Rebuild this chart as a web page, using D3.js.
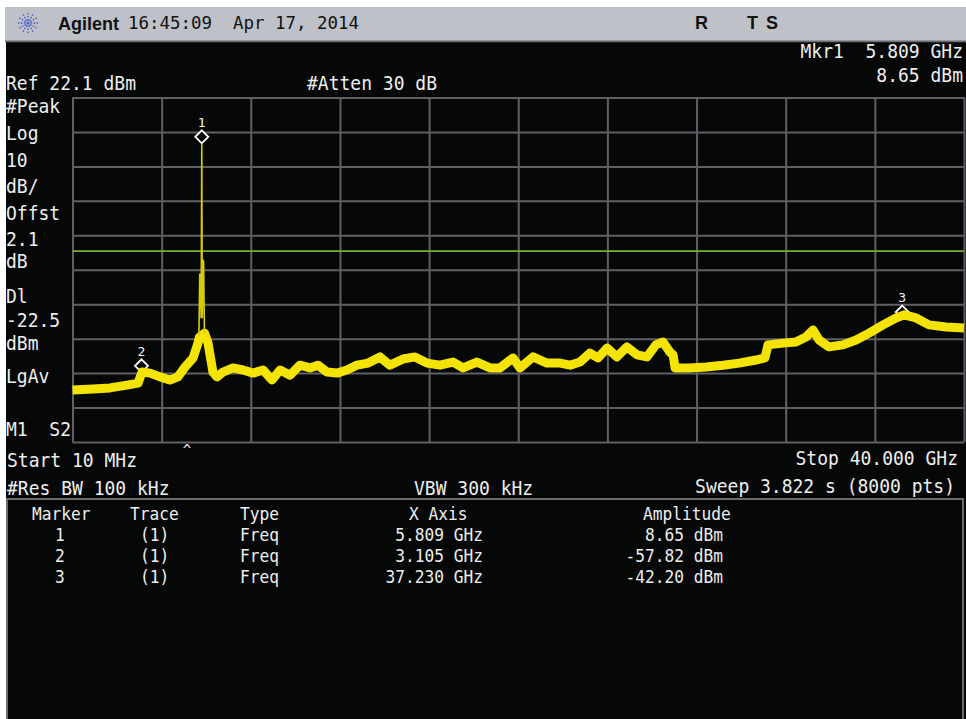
<!DOCTYPE html>
<html><head><meta charset="utf-8">
<script src="https://cdn.jsdelivr.net/npm/d3@7"></script>
<style>html,body{margin:0;padding:0;background:#fff;overflow:hidden}</style>
</head><body>
<svg id="c" width="966" height="719"></svg>
<script>
// ---- data ----
const startGHz = 0.01, stopGHz = 40.0;
const refLevel = 22.1, dbPerDiv = 10, displayLine = -22.5;
const traceFreq = [0.01,0.93,1.69,2.45,2.95,3.13,3.49,3.94,4.38,4.74,5.06,5.42,5.64,5.70,5.93,6.09,6.31,6.49,6.76,7.21,7.66,8.11,8.56,8.96,9.32,9.77,10.21,10.66,11.02,11.43,11.87,12.32,12.77,13.27,13.80,14.25,14.84,15.37,15.91,16.49,17.08,17.53,18.15,18.74,19.19,19.77,20.08,20.67,21.29,21.88,22.33,22.77,23.22,23.58,23.99,24.43,24.88,25.33,25.78,26.18,26.36,26.50,26.81,26.95,27.04,27.66,28.43,29.19,29.91,30.67,31.07,31.21,31.88,32.46,32.91,33.23,33.50,33.94,34.57,35.16,35.74,36.37,36.95,37.31,37.85,38.43,39.19,40.0];
const traceAmp = [-62.8,-62.5,-62.2,-61.4,-60.8,-57.6,-57.9,-59.0,-59.9,-59.0,-56.1,-53.5,-49.2,-47.5,-46.3,-49.2,-57.6,-59.0,-57.6,-56.4,-57.0,-57.9,-57.0,-59.9,-57.0,-58.5,-55.6,-56.4,-55.6,-57.6,-57.9,-57.0,-55.6,-55.0,-53.2,-55.6,-53.8,-53.2,-55.0,-55.6,-54.7,-56.4,-54.7,-56.4,-56.4,-53.5,-56.4,-53.2,-55.0,-55.0,-55.6,-54.7,-52.1,-53.5,-50.6,-53.2,-50.3,-52.6,-53.2,-49.7,-49.2,-48.9,-51.8,-52.6,-56.4,-56.4,-56.1,-55.6,-55.0,-54.1,-53.5,-49.7,-49.2,-48.9,-47.4,-45.4,-48.3,-50.3,-49.7,-48.3,-46.3,-43.9,-41.9,-41.0,-41.9,-43.9,-44.5,-44.8];
const spikeFreq = [5.68,5.72,5.75,5.78,5.809,5.83,5.86,5.89,5.93];
const spikeAmp  = [-47.0,-29.0,-29.5,-42.0,8.65,-42.0,-25.0,-25.5,-46.3];
const markerIds = ["1","2","3"];
const markerTraces = ["(1)","(1)","(1)"];
const markerTypes = ["Freq","Freq","Freq"];
const markerFreq = [5.809,3.105,37.230];
const markerAmp = [8.65,-57.82,-42.20];
const markerFreqText = ["5.809 GHz","3.105 GHz","37.230 GHz"];
const markerAmpText = ["8.65 dBm","-57.82 dBm","-42.20 dBm"];
const tableHeaders = ["Marker","Trace","Type","X Axis","Amplitude"];
const leftLabels = ["#Peak","Log","10","dB/","Offst","2.1","dB","Dl","-22.5","dBm","LgAv","M1  S2"];

// ---- layout ----
const svg = d3.select("#c");
const L = 72.5, R = 964, T = 97.5, B = 442;
const x = d3.scaleLinear().domain([startGHz, stopGHz]).range([L, R]);
const y = d3.scaleLinear().domain([refLevel - 10*dbPerDiv, refLevel]).range([B, T]);
const MONO = "'DejaVu Sans Mono', monospace";
const SANS = "'Liberation Sans', Arial, sans-serif";
const FG = "#eeeeee";

function txt(xp, yp, s, o = {}) {
  const g = svg.append("g").attr("transform", `translate(${xp},${yp}) scale(${o.sx ?? 0.9},1)`);
  g.append("text").attr("x", 0).attr("y", 0)
    .attr("font-family", o.family || MONO).attr("font-size", o.size || 20)
    .attr("font-weight", o.weight || "normal")
    .attr("text-anchor", o.anchor || "start")
    .attr("fill", o.fill || FG).attr("xml:space", "preserve")
    .style("white-space", "pre").text(s);
}

// backgrounds
svg.append("rect").attr("x", 0).attr("y", 0).attr("width", 966).attr("height", 719).attr("fill", "#ffffff");
svg.append("rect").attr("x", 6).attr("y", 42).attr("width", 960).attr("height", 677).attr("fill", "#060808");
svg.append("rect").attr("x", 5).attr("y", 7).attr("width", 961).attr("height", 34).attr("fill", "#bfc1c8");
svg.append("rect").attr("x", 5).attr("y", 40.5).attr("width", 961).attr("height", 1.8).attr("fill", "#6a6c72");

// logo starburst
const logo = svg.append("g").attr("transform", "translate(28,23)");
d3.range(12).forEach(i => {
  const a = i * Math.PI / 6;
  logo.append("line").attr("x1", Math.cos(a)*2.5).attr("y1", Math.sin(a)*2.5)
    .attr("x2", Math.cos(a)*10.5).attr("y2", Math.sin(a)*10.5)
    .attr("stroke", "#4a63c9").attr("stroke-width", 1.4).attr("stroke-dasharray", "1.6,1.4");
});
logo.append("circle").attr("r", 1.6).attr("fill", "#4a63c9");

// header text
txt(58, 30, "Agilent", {family: SANS, weight: "bold", size: 18, sx: 1, fill: "#111"});
txt(128, 29, "16:45:09  Apr 17, 2014", {size: 18, sx: 0.97, fill: "#111"});
txt(695, 29, "R", {family: SANS, weight: "bold", size: 18, sx: 1, fill: "#111"});
txt(747, 29, "T", {family: SANS, weight: "bold", size: 18, sx: 1, fill: "#111"});
txt(766, 29, "S", {family: SANS, weight: "bold", size: 18, sx: 1, fill: "#111"});

// top info
txt(963, 58, "Mkr1  5.809 GHz", {anchor: "end"});
txt(963, 82, "8.65 dBm", {anchor: "end"});
txt(6, 90, "Ref 22.1 dBm");
txt(307, 90, "#Atten 30 dB");

// left labels
const leftY = [113,140,167,193,220,246,268,303,327,350,383,436];
leftLabels.forEach((s, i) => txt(6, leftY[i], s));

// graticule via axes
const xDivs = d3.range(11).map(i => startGHz + i * (stopGHz - startGHz) / 10);
const yDivs = d3.range(11).map(i => refLevel - i * dbPerDiv);
const gridColor = "#5f6066";
svg.append("g").attr("transform", `translate(0,${B})`)
  .call(d3.axisBottom(x).tickValues(xDivs).tickSize(-(B - T)).tickFormat(""))
  .call(g => g.select(".domain").remove())
  .call(g => g.selectAll("line").attr("stroke", gridColor).attr("stroke-width", 2));
svg.append("g").attr("transform", `translate(${L},0)`)
  .call(d3.axisLeft(y).tickValues(yDivs).tickSize(-(R - L)).tickFormat(""))
  .call(g => g.select(".domain").remove())
  .call(g => g.selectAll("line").attr("stroke", gridColor).attr("stroke-width", 2));

// display line
svg.append("line").attr("x1", L).attr("x2", R).attr("y1", y(displayLine)).attr("y2", y(displayLine))
  .attr("stroke", "#78b030").attr("stroke-width", 1.6);

// markers (diamonds)
const mk = svg.append("g");
markerFreq.forEach((f, i) => {
  const cx = x(f), cy = y(markerAmp[i]) - 7, r = 6.5;
  mk.append("path").attr("d", `M${cx},${cy-r}L${cx+r},${cy}L${cx},${cy+r}L${cx-r},${cy}Z`)
    .attr("fill", "#060808").attr("stroke", "#ffffff").attr("stroke-width", 1.8);
  mk.append("text").attr("x", cx).attr("y", cy - 10).attr("text-anchor", "middle")
    .attr("font-family", MONO).attr("font-size", 13).attr("fill", "#f4f4f4").text(markerIds[i]);
});

// trace
const line = d3.line().x(d => x(d[0])).y(d => y(d[1])).curve(d3.curveLinear);
svg.append("path").datum(traceFreq.map((f, i) => [f, traceAmp[i]]))
  .attr("d", line).attr("fill", "none").attr("stroke", "#f3e405")
  .attr("stroke-width", 9).attr("stroke-linejoin", "round").attr("stroke-linecap", "butt");
svg.append("path").datum(spikeFreq.map((f, i) => [f, spikeAmp[i]]))
  .attr("d", line).attr("fill", "none").attr("stroke", "#d6cc0a")
  .attr("stroke-width", 1.6).attr("stroke-linejoin", "miter");

// caret below grid
txt(187, 455, "^", {size: 14, sx: 1, anchor: "middle"});

// bottom info
txt(7, 467, "Start 10 MHz");
txt(958, 465, "Stop 40.000 GHz", {anchor: "end"});
txt(7, 495, "#Res BW 100 kHz");
txt(414, 495, "VBW 300 kHz");
txt(955, 493, "Sweep 3.822 s (8000 pts)", {anchor: "end"});

// marker table
svg.append("rect").attr("x", 7).attr("y", 499).attr("width", 956).attr("height", 240)
  .attr("fill", "none").attr("stroke", "#6a6c72").attr("stroke-width", 2);
const hdrX = [32, 130, 240, 409, 643];
tableHeaders.forEach((h, i) => txt(hdrX[i], 520, h, {size: 18}));
const rowY = [541, 562, 583];
markerIds.forEach((id, i) => {
  txt(60, rowY[i], id, {size: 18, anchor: "middle"});
  txt(140, rowY[i], markerTraces[i], {size: 18});
  txt(240, rowY[i], markerTypes[i], {size: 18});
  txt(483, rowY[i], markerFreqText[i], {size: 18, anchor: "end"});
  txt(723, rowY[i], markerAmpText[i], {size: 18, anchor: "end"});
});
</script>
</body></html>
